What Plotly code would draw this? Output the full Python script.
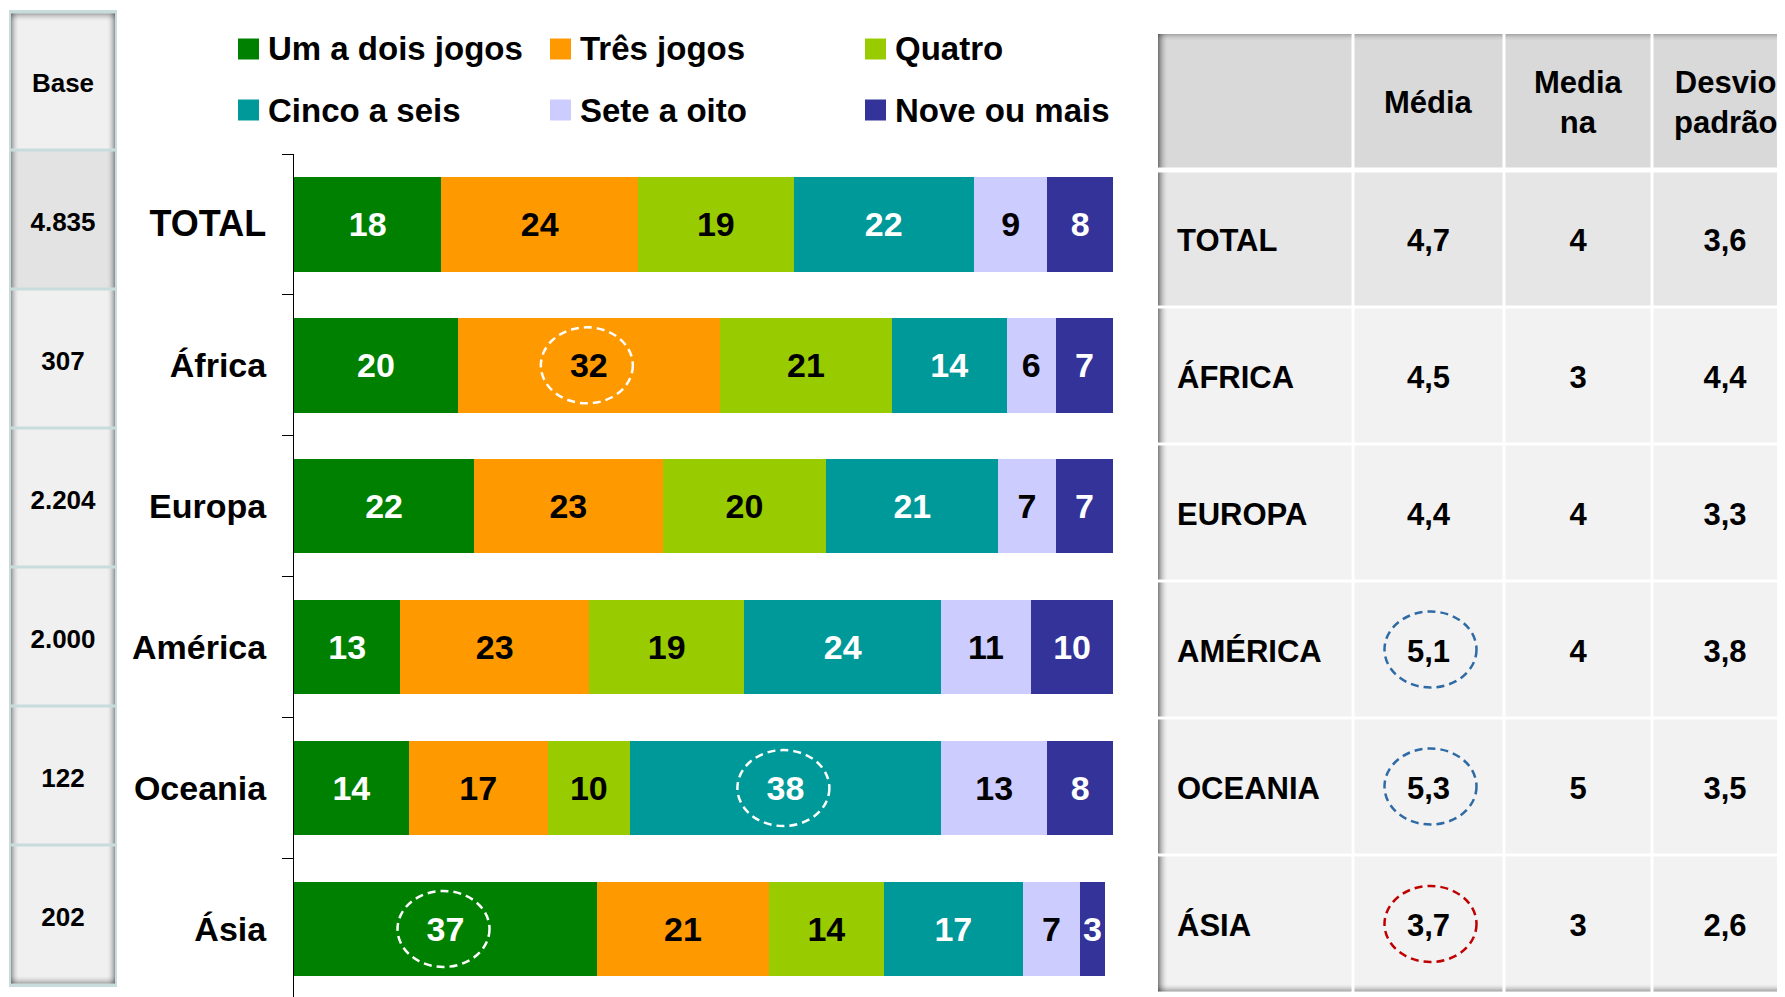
import plotly.graph_objects as go

# ---------------- data ----------------
categories = ["TOTAL", "África", "Europa", "América", "Oceania", "Ásia"]
series_names = ["Um a dois jogos", "Três jogos", "Quatro",
                "Cinco a seis", "Sete a oito", "Nove ou mais"]
um_a_dois = [18, 20, 22, 13, 14, 37]
tres_jogos = [24, 32, 23, 23, 17, 21]
quatro = [19, 21, 20, 19, 10, 14]
cinco_a_seis = [22, 14, 21, 24, 38, 17]
sete_a_oito = [9, 6, 7, 11, 13, 7]
nove_ou_mais = [8, 7, 7, 10, 8, 3]
series_values = [um_a_dois, tres_jogos, quatro, cinco_a_seis, sete_a_oito, nove_ou_mais]
series_colors = ["#008000", "#FF9900", "#99CC00", "#009999", "#CCCCFF", "#333399"]
value_text_colors = ["white", "black", "black", "white", "black", "white"]

base_header = "Base"
base_values = ["4.835", "307", "2.204", "2.000", "122", "202"]

table_headers = ["", "Média", "Media<br>na", "Desvio<br>padrão"]
table_rows = ["TOTAL", "ÁFRICA", "EUROPA", "AMÉRICA", "OCEANIA", "ÁSIA"]
media = ["4,7", "4,5", "4,4", "5,1", "5,3", "3,7"]
mediana = ["4", "3", "4", "4", "5", "3"]
desvio_padrao = ["3,6", "4,4", "3,3", "3,8", "3,5", "2,6"]

bar_highlights = [("África", "Três jogos"), ("Oceania", "Cinco a seis"), ("Ásia", "Um a dois jogos")]
table_highlights = [("AMÉRICA", "#2E6AA6"), ("OCEANIA", "#2E6AA6"), ("ÁSIA", "#C00000")]

# ---------------- layout constants (page pixels) ----------------
W, H = 1785, 997
OFF = 8  # page offset of the figure (default body margin)
FONT = "Liberation Sans, Arial, sans-serif"
PLOT_LEFT, PLOT_RIGHT, PLOT_TOP = 294, 1113, 154
BAND = 140.9
TEXT_DY = 4.5  # vertical nudge for centred scatter text


def px(x):
    return (x - OFF) / W


def py(y):
    return 1 - (y - OFF) / H


fig = go.Figure()

# ---------------- stacked bars ----------------
for name, vals, col, tcol in zip(series_names, series_values, series_colors, value_text_colors):
    fig.add_trace(go.Bar(
        orientation="h", y=categories, x=vals, name=name,
        marker=dict(color=col, line=dict(width=0)),
        text=[str(v) for v in vals], textposition="inside",
        insidetextanchor="middle", textangle=0, constraintext="none",
        textfont=dict(family=FONT, size=34, color=tcol, weight="bold"),
        hoverinfo="skip", showlegend=False, xaxis="x", yaxis="y",
    ))

n = len(categories)
bottom_page = H + OFF
y_bottom = -0.5 + (bottom_page - PLOT_TOP) / BAND
tick_text = [f'<span style="font-size:36px">{c}</span>' if c == "TOTAL" else c for c in categories]

fig.update_layout(
    barmode="stack", bargap=0.33,
    uniformtext=dict(minsize=34, mode="show"),
    xaxis=dict(domain=[px(PLOT_LEFT), px(PLOT_RIGHT)], range=[0, 100], visible=False,
               fixedrange=True),
    yaxis=dict(domain=[0, py(PLOT_TOP)], type="category",
               categoryorder="array", categoryarray=categories,
               tickmode="array", tickvals=categories, ticktext=tick_text,
               range=[y_bottom, -0.5], showline=True, linecolor="black",
               linewidth=1, ticks="outside", ticklen=11, tickcolor="black",
               tickson="boundaries", showgrid=False, zeroline=False,
               tickfont=dict(family=FONT, size=34, color="black", weight="bold"),
               ticklabelstandoff=20, fixedrange=True),
    # overlay axes in page-pixel units for the side panels
    xaxis2=dict(domain=[0, 1], range=[OFF, W + OFF], visible=False, anchor="y2", fixedrange=True),
    yaxis2=dict(domain=[0, 1], range=[H + OFF, OFF], visible=False, anchor="x2", fixedrange=True),
)

shapes = []
annotations = []


def shade(x0, y0, x1, y1, side, width=9, maxop=0.38):
    for k in range(width):
        op = maxop * (1 - k / width) ** 2
        if side == "left":
            r = (x0 + k, y0, x0 + k + 1, y1)
        elif side == "right":
            r = (x1 - k - 1, y0, x1 - k, y1)
        elif side == "top":
            r = (x0, y0 + k, x1, y0 + k + 1)
        else:
            r = (x0, y1 - k - 1, x1, y1 - k)
        shapes.append(dict(type="rect", xref="x2", yref="y2", x0=r[0], y0=r[1], x1=r[2], y1=r[3],
                           line=dict(width=0), fillcolor=f"rgba(0,0,0,{op:.3f})", layer="below"))


# ---------------- highlight circles on bars ----------------
for cat, ser in bar_highlights:
    ci = categories.index(cat)
    si = series_names.index(ser)
    start = sum(series_values[k][ci] for k in range(si))
    cx = start + series_values[si][ci] / 2
    shapes.append(dict(type="circle", xref="x", yref="y", xsizemode="pixel", ysizemode="pixel",
                       xanchor=cx, yanchor=ci, x0=-48, x1=44, y0=-38, y1=38,
                       line=dict(color="white", width=2.5, dash="8px,5px"), layer="above"))

# ---------------- legend (custom, 3 columns x 2 rows) ----------------
leg_col_x = [238, 550, 865]
leg_row_y = [49, 110]
for i, (name, col) in enumerate(zip(series_names, series_colors)):
    lx = leg_col_x[i % 3]
    ly = leg_row_y[i // 3]
    shapes.append(dict(type="rect", xref="paper", yref="paper",
                       x0=px(lx), x1=px(lx + 21), y0=py(ly + 10.5), y1=py(ly - 10.5),
                       fillcolor=col, line=dict(width=0)))
    annotations.append(dict(xref="paper", yref="paper", x=px(lx + 28), y=py(ly),
                            xanchor="left", yanchor="middle", showarrow=False, text=name,
                            font=dict(family=FONT, size=33, color="black", weight="bold")))

# ---------------- base column ----------------
base_x0, base_x1 = 11, 115
base_edges = [12, 150, 289, 428, 567, 706, 845, 985]
shapes.append(dict(type="rect", xref="x2", yref="y2", x0=base_x0 - 2, x1=base_x1 + 2,
                   y0=base_edges[0] - 2, y1=base_edges[-1] + 2, fillcolor="#C9DCDC",
                   line=dict(width=0), layer="below"))
for r in range(len(base_edges) - 1):
    y0, y1 = base_edges[r] + 1.5, base_edges[r + 1] - 1.5
    fill = "#E3E3E3" if r == 1 else "#F0F0F0"
    shapes.append(dict(type="rect", xref="x2", yref="y2", x0=base_x0, x1=base_x1, y0=y0, y1=y1,
                       fillcolor=fill, line=dict(width=0), layer="below"))
    shade(base_x0, y0, base_x1, y1, "left", 8, 0.35)
    shade(base_x0, y0, base_x1, y1, "right", 8, 0.35)
    if r == 0:
        shade(base_x0, y0, base_x1, y1, "top", 8, 0.3)
    if r == len(base_edges) - 2:
        shade(base_x0, y0, base_x1, y1, "bottom", 8, 0.3)

base_cx = (base_x0 + base_x1) / 2
base_labels = [base_header] + base_values
base_cy = [(base_edges[i] + base_edges[i + 1]) / 2 + TEXT_DY for i in range(len(base_labels))]
fig.add_trace(go.Scatter(
    x=[base_cx] * len(base_labels), y=base_cy, mode="text", text=base_labels,
    textposition="middle center",
    textfont=dict(family=FONT, size=26, color="black", weight="bold"),
    xaxis="x2", yaxis="y2", hoverinfo="skip", showlegend=False, cliponaxis=False))

# ---------------- right table ----------------
tbl_left = 1158
col_widths = [195, 151, 148, 146]
col_edges = [tbl_left]
for w in col_widths:
    col_edges.append(col_edges[-1] + w)
row_edges = [34, 170, 307, 444, 581, 718, 855, 993]

for r in range(len(row_edges) - 1):
    top_gap = 2.5 if r == 1 else 1.5
    y0 = row_edges[r] + (top_gap if r > 0 else 0)
    y1 = row_edges[r + 1] - (2.5 if r == 0 else 1.5)
    fill = "#D9D9D9" if r == 0 else ("#E6E6E6" if r == 1 else "#F2F2F2")
    for c in range(len(col_widths)):
        x0 = col_edges[c] + (1.5 if c > 0 else 0)
        x1 = col_edges[c + 1] + 40 if c == len(col_widths) - 1 else col_edges[c + 1] - 1.5
        shapes.append(dict(type="rect", xref="x2", yref="y2", x0=x0, x1=x1, y0=y0, y1=y1,
                           fillcolor=fill, line=dict(width=0), layer="below"))
        if c == 0:
            shade(x0, y0, x1, y1, "left", 10, 0.45)
        if r == 0:
            shade(x0, y0, x1, y1, "top", 7, 0.22)
        if r == len(row_edges) - 2:
            shade(x0, y0, x1, y1, "bottom", 8, 0.32)

row_mid = [(row_edges[i] + row_edges[i + 1]) / 2 for i in range(1, len(row_edges) - 1)]
row_cy = [m + TEXT_DY for m in row_mid]
col_cx = [(col_edges[i] + col_edges[i + 1]) / 2 for i in range(len(col_widths))]

# headers
for c in range(1, len(table_headers)):
    annotations.append(dict(xref="x2", yref="y2", x=col_cx[c], y=(row_edges[0] + row_edges[1]) / 2,
                            xanchor="center", yanchor="middle", showarrow=False,
                            text=table_headers[c], align="center",
                            font=dict(family=FONT, size=31, color="black", weight="bold")))

# row labels
fig.add_trace(go.Scatter(
    x=[tbl_left + 19] * len(table_rows), y=row_cy, mode="text", text=table_rows,
    textposition="middle right",
    textfont=dict(family=FONT, size=31, color="black", weight="bold"),
    xaxis="x2", yaxis="y2", hoverinfo="skip", showlegend=False, cliponaxis=False))
# values
for c, col_vals in zip([1, 2, 3], [media, mediana, desvio_padrao]):
    fig.add_trace(go.Scatter(
        x=[col_cx[c]] * len(col_vals), y=row_cy, mode="text", text=col_vals,
        textposition="middle center",
        textfont=dict(family=FONT, size=31, color="black", weight="bold"),
        xaxis="x2", yaxis="y2", hoverinfo="skip", showlegend=False, cliponaxis=False))

# highlight circles in table
for row, colr in table_highlights:
    ri = table_rows.index(row)
    shapes.append(dict(type="circle", xref="x2", yref="y2", xsizemode="pixel", ysizemode="pixel",
                       xanchor=col_cx[1], yanchor=row_mid[ri], x0=-44, x1=48, y0=-38, y1=38,
                       line=dict(color=colr, width=2.5, dash="8px,5px"), layer="above"))

fig.update_layout(
    width=W, height=H, autosize=False,
    margin=dict(l=0, r=0, t=0, b=0, pad=0),
    paper_bgcolor="white", plot_bgcolor="rgba(0,0,0,0)",
    font=dict(family=FONT, color="black"),
    shapes=shapes, annotations=annotations, showlegend=False,
)

fig.write_html("out.html", config={"displayModeBar": False})
